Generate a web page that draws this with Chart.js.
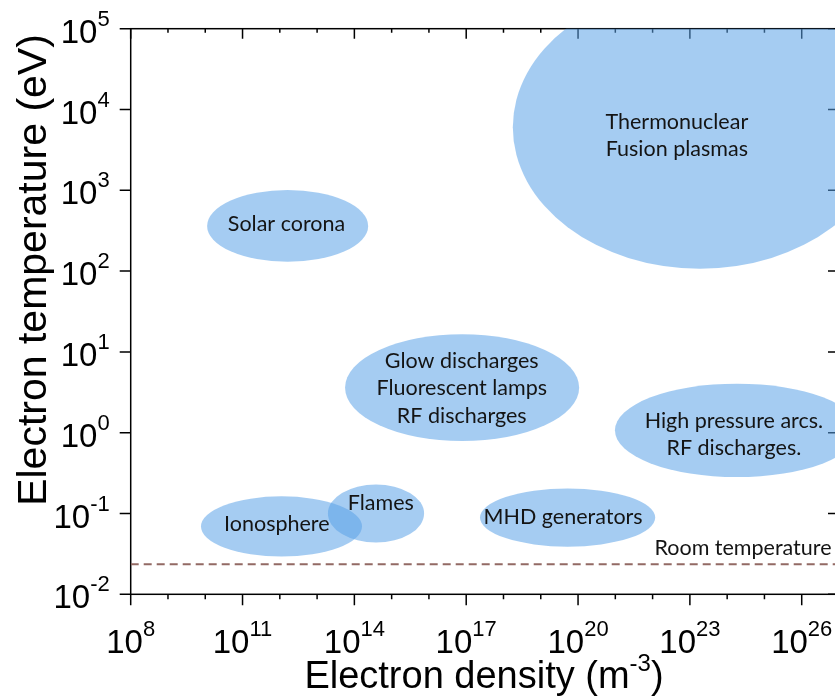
<!DOCTYPE html>
<html><head><meta charset="utf-8">
<script src="https://cdn.jsdelivr.net/npm/chart.js@4.4.1/dist/chart.umd.min.js"></script>
<style>html,body{margin:0;padding:0;overflow:hidden;background:#fff;width:835px;height:700px}
canvas{display:block}</style></head>
<body><canvas id="c" width="850" height="700" style="width:850px;height:700px"></canvas>
<script>
// ---- data (exponents of 10) ----
const regionNames = [["Thermonuclear","Fusion plasmas"],["Solar corona"],["Glow discharges","Fluorescent lamps","RF discharges"],["High pressure arcs.","RF discharges."],["Ionosphere"],["Flames"],["MHD generators"]];
const densityLowExp  = [18.25, 10.05, 13.75, 20.99,  9.885, 13.29, 17.37];
const densityHighExp = [28.29, 14.37, 20.03, 27.53, 14.205, 15.87, 22.07];
const tempLowExp     = [2.03, 2.115, -0.102, -0.549, -1.532, -1.36, -1.41];
const tempHighExp    = [5.53, 3.003,  1.218,  0.607, -0.788, -0.64, -0.69];
const labelDensityExp = [22.65, 12.18, 16.88, 24.18, 11.92, 14.71, 19.6];
const labelTempExp    = [3.677, 2.577, 0.549, -0.02, -1.135, -0.875, -1.05];
const roomTemperature = 0.0235;
const roomLabel = "Room temperature";
const xTickExps = [8, 11, 14, 17, 20, 23, 26];
const xMinorExps = [8,9,10,11,12,13,14,15,16,17,18,19,20,21,22,23,24,25,26,27];
const yTickExps = [-2, -1, 0, 1, 2, 3, 4, 5];
const xTitle = ["Electron density (m", "-3", ")"];
const yTitle = "Electron temperature (eV)";

const AX = '"Liberation Sans", Arial, sans-serif';
const LB = 'Lato, "Open Sans", sans-serif';

function drawPow(ctx, x, y, exp, align, mainPx, supPx, rise) {
  ctx.font = mainPx + 'px ' + AX;
  const w1 = ctx.measureText('10').width;
  ctx.font = supPx + 'px ' + AX;
  const e = String(exp);
  const w2 = ctx.measureText(e).width;
  let x0 = align === 'right' ? x - w1 - w2 : x - (w1 + w2) / 2;
  ctx.textAlign = 'left'; ctx.textBaseline = 'alphabetic';
  ctx.font = mainPx + 'px ' + AX; ctx.fillText('10', x0, y);
  ctx.font = supPx + 'px ' + AX; ctx.fillText(e, x0 + w1, y - rise);
}

const plasmaPlugin = {
  id: 'plasma',
  beforeDatasetsDraw(chart) {
    const {ctx, chartArea: a, scales: {x, y}} = chart;
    ctx.save();
    // frame
    ctx.strokeStyle = '#000'; ctx.lineWidth = 1.5;
    ctx.strokeRect(a.left, a.top, a.right - a.left, a.bottom - a.top);
    // x ticks (bottom outward, top inward)
    xMinorExps.forEach(k => {
      const px = x.getPixelForValue(Math.pow(10, k));
      const major = xTickExps.includes(k);
      ctx.beginPath();
      ctx.moveTo(px, a.bottom); ctx.lineTo(px, a.bottom + (major ? 11 : 5));
      ctx.moveTo(px, a.top); ctx.lineTo(px, a.top + (major ? 10 : 4));
      ctx.stroke();
    });
    yTickExps.forEach(k => {
      const py = y.getPixelForValue(Math.pow(10, k));
      ctx.beginPath();
      ctx.moveTo(a.left - 11, py); ctx.lineTo(a.left, py);
      ctx.moveTo(a.right - 11, py); ctx.lineTo(a.right, py);
      ctx.stroke();
    });
    // ellipses
    ctx.beginPath(); ctx.rect(a.left, a.top, a.right - a.left, a.bottom - a.top); ctx.clip();
    ctx.fillStyle = 'rgba(91,162,231,0.55)';
    regionNames.forEach((n, i) => {
      const x1 = x.getPixelForValue(Math.pow(10, densityLowExp[i]));
      const x2 = x.getPixelForValue(Math.pow(10, densityHighExp[i]));
      const y1 = y.getPixelForValue(Math.pow(10, tempLowExp[i]));
      const y2 = y.getPixelForValue(Math.pow(10, tempHighExp[i]));
      ctx.beginPath();
      ctx.ellipse((x1 + x2) / 2, (y1 + y2) / 2, Math.abs(x2 - x1) / 2, Math.abs(y2 - y1) / 2, 0, 0, Math.PI * 2);
      ctx.fill();
    });
    ctx.restore();
  },
  afterDraw(chart) {
    const {ctx, chartArea: a, scales: {x, y}} = chart;
    ctx.save();
    // region labels
    ctx.fillStyle = '#141414';
    ctx.font = '21.5px ' + LB;
    ctx.textAlign = 'center'; ctx.textBaseline = 'middle';
    regionNames.forEach((lines, i) => {
      const cx = x.getPixelForValue(Math.pow(10, labelDensityExp[i]));
      const cy = y.getPixelForValue(Math.pow(10, labelTempExp[i]));
      const lh = 27.5;
      lines.forEach((t, j) => ctx.fillText(t, cx, cy + (j - (lines.length - 1) / 2) * lh));
    });
    // room temperature label
    ctx.textAlign = 'right'; ctx.textBaseline = 'alphabetic';
    ctx.fillText(roomLabel, x.getPixelForValue(Math.pow(10, 26.8)), y.getPixelForValue(roomTemperature) - 9);
    // tick labels
    ctx.fillStyle = '#000';
    xTickExps.forEach(k => drawPow(ctx, x.getPixelForValue(Math.pow(10, k)), a.bottom + 59, k, 'center', 33, 22, 17));
    yTickExps.forEach(k => drawPow(ctx, a.left - 21, y.getPixelForValue(Math.pow(10, k)) + 14, k, 'right', 33, 22, 17));
    // x title
    ctx.font = '38px ' + AX; const w1 = ctx.measureText(xTitle[0]).width; const w3 = ctx.measureText(xTitle[2]).width;
    ctx.font = '24px ' + AX; const w2 = ctx.measureText(xTitle[1]).width;
    let sx = 484 - (w1 + w2 + w3) / 2; const by = 688;
    ctx.textAlign = 'left';
    ctx.font = '38px ' + AX; ctx.fillText(xTitle[0], sx, by);
    ctx.font = '24px ' + AX; ctx.fillText(xTitle[1], sx + w1, by - 17);
    ctx.font = '38px ' + AX; ctx.fillText(xTitle[2], sx + w1 + w2, by);
    // y title
    ctx.translate(46, 270); ctx.rotate(-Math.PI / 2);
    ctx.font = '41px ' + AX; ctx.textAlign = 'center'; ctx.textBaseline = 'alphabetic';
    ctx.fillText(yTitle, 0, 0);
    ctx.restore();
  }
};

new Chart(document.getElementById('c'), {
  type: 'scatter',
  data: {
    datasets: [{
      label: roomLabel,
      data: [{x: 1e8, y: roomTemperature}, {x: 1e27, y: roomTemperature}],
      showLine: true, pointRadius: 0, borderColor: 'rgb(146,106,100)', borderWidth: 2,
      borderDash: [8, 5], fill: false
    }]
  },
  options: {
    responsive: false, animation: false, devicePixelRatio: 1,
    layout: {autoPadding: false, padding: {left: 0, top: 28.7, right: 11, bottom: 0}},
    plugins: {legend: {display: false}, tooltip: {enabled: false}},
    scales: {
      x: {type: 'logarithmic', min: 1e8, max: 1e27,
          ticks: {display: false}, grid: {display: false}, border: {display: false},
          afterFit(s) { s.height = 700 - 594.3; }},
      y: {type: 'logarithmic', min: 1e-2, max: 1e5,
          ticks: {display: false}, grid: {display: false}, border: {display: false},
          afterFit(s) { s.width = 130.7; }}
    }
  },
  plugins: [plasmaPlugin]
});
</script>
</body></html>
